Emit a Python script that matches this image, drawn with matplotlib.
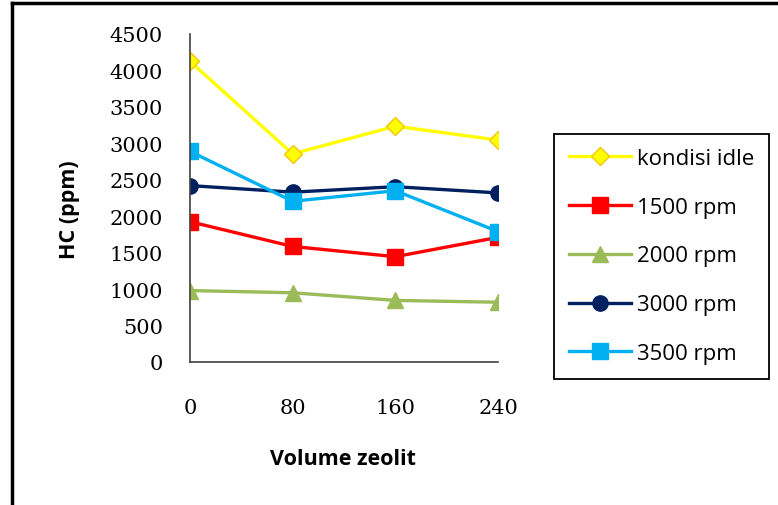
import matplotlib.pyplot as plt
from matplotlib.lines import Line2D

# HC emission vs zeolite volume
volume = ['0', '80', '160', '240']
idle = [4125, 2855, 3235, 3045]
rpm1500 = [1925, 1585, 1445, 1710]
rpm2000 = [980, 950, 845, 820]
rpm3000 = [2420, 2330, 2405, 2320]
rpm3500 = [2890, 2205, 2350, 1790]

series = [
    ('kondisi idle', idle, '#FFFF00', 'D', 9.5, '#F2C500'),
    ('1500 rpm', rpm1500, '#FF0000', 's', 11, '#FF0000'),
    ('2000 rpm', rpm2000, '#9BBB59', '^', 11.5, '#9BBB59'),
    ('3000 rpm', rpm3000, '#002060', 'o', 11, '#002060'),
    ('3500 rpm', rpm3500, '#00B0F0', 's', 11, '#00B0F0'),
]

W, H = 778, 506
fig = plt.figure(figsize=(W / 100, H / 100), dpi=100)
ax = fig.add_axes([190 / W, 1 - 363 / H, 308 / W, 328 / H])

x = range(len(volume))
for name, vals, col, mk, ms, ec in series:
    ax.plot(x, vals, color=col, lw=2.4, marker=mk, ms=ms,
            markerfacecolor=col, markeredgecolor=ec, markeredgewidth=1,
            label=name)

ax.set_xlim(0, len(volume) - 1)
ax.set_ylim(0, 4500)
ax.set_yticks(range(0, 4501, 500))
ax.set_xticks(list(x))
ax.set_xticklabels(volume)

for lab in ax.get_xticklabels() + ax.get_yticklabels():
    lab.set_fontfamily('DejaVu Serif')
    lab.set_fontsize(15)
ax.tick_params(axis='both', length=0)
ax.tick_params(axis='y', pad=19.5)
ax.tick_params(axis='x', pad=26)

for s in ['top', 'right']:
    ax.spines[s].set_visible(False)
for s in ['left', 'bottom']:
    ax.spines[s].set_color('#404040')
    ax.spines[s].set_linewidth(1.2)

fig.text(343 / W, 1 - 460 / H, 'Volume zeolit', ha='center', va='center',
         family='Open Sans', weight='bold', fontsize=15.5)
fig.text(70 / W, 1 - 210 / H, 'HC (ppm)', ha='center', va='center',
         rotation=90, family='Open Sans', weight='bold', fontsize=15.5)

leg = fig.legend(loc='center',
                 bbox_to_anchor=((552 + 771) / 2 / W, 1 - (135 + 379) / 2 / H),
                 prop={'family': 'Open Sans', 'size': 16}, numpoints=1,
                 handlelength=2.8, handletextpad=0.27, labelspacing=1.25,
                 borderpad=0.65, fancybox=False, edgecolor='black',
                 framealpha=1)
leg.get_frame().set_linewidth(1.3)

# outer frame, left and top edges
fig.add_artist(Line2D([12 / W, 12 / W], [0, 1 - 4 / H], color='black', lw=2.5,
                      transform=fig.transFigure))
fig.add_artist(Line2D([12 / W, 1], [1 - 4 / H, 1 - 4 / H], color='black', lw=2.5,
                      transform=fig.transFigure))

fig.savefig('out.png', dpi=100, facecolor='white')
